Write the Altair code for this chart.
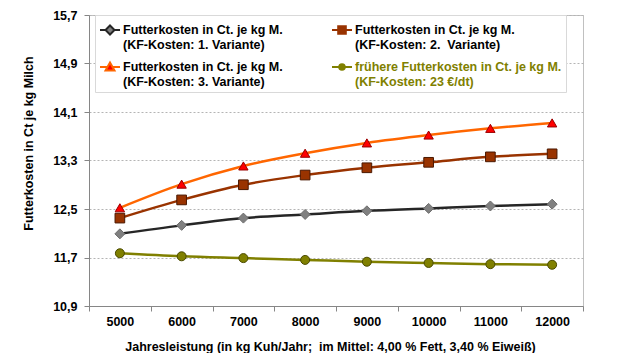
import altair as alt
import pandas as pd

# ---------------- data ----------------
jahresleistung = [5000, 6000, 7000, 8000, 9000, 10000, 11000, 12000]
variante_1 = [12.09, 12.23, 12.35, 12.41, 12.47, 12.51, 12.55, 12.58]
variante_2 = [12.35, 12.65, 12.90, 13.06, 13.18, 13.27, 13.36, 13.41]
variante_3 = [12.52, 12.91, 13.21, 13.42, 13.59, 13.72, 13.83, 13.92]
frueher = [11.77, 11.72, 11.69, 11.66, 11.63, 11.61, 11.59, 11.58]

series_keys = ["V1", "V2", "V3", "V4"]
label_line1 = [
    "Futterkosten in Ct. je kg M.",
    "Futterkosten in Ct. je kg M.",
    "Futterkosten in Ct. je kg M.",
    "frühere Futterkosten in Ct. je kg M.",
]
label_line2 = [
    "(KF-Kosten: 1. Variante)",
    "(KF-Kosten: 2.\u00a0 Variante)",
    "(KF-Kosten: 3. Variante)",
    "(KF-Kosten: 23 €/dt)",
]
y_ticks = [10.9, 11.7, 12.5, 13.3, 14.1, 14.9, 15.7]

line_colors = ["#262626", "#993300", "#ff6600", "#808000"]
marker_fill = ["#808080", "#993300", "#ff0000", "#808000"]
marker_stroke = ["#6e6e6e", "#4a1800", "#990000", "#4a4a00"]
marker_shapes = ["diamond", "square", "triangle-up", "circle"]
marker_sizes = [100, 81, 120, 49]
legend_fill = ["#808080", "#993300", "#ff0000", "#808000"]
legend_paths = [
    "M-1,0H-0.45M0.45,0H1M0,-0.45L0.45,0L0,0.45L-0.45,0Z",
    "M-1,0H-0.38M0.38,0H1M-0.38,-0.38H0.38V0.38H-0.38Z",
    "M-1,0H-0.25M0.25,0H1M0,-0.45L0.45,0.35L-0.45,0.35Z",
    "M-1,0H-0.28M0.28,0H1M-0.28,0A0.28,0.28 0 1,0 0.28,0A0.28,0.28 0 1,0 -0.28,0Z",
]

values_by_series = [variante_1, variante_2, variante_3, frueher]
rows = []
for key, vals in zip(series_keys, values_by_series):
    for j, v in zip(jahresleistung, vals):
        rows.append({"Jahr": str(j), "Wert": v, "Serie": key})
df = pd.DataFrame(rows)

FONT = "Liberation Sans"
FS = 12.5
PLOT_H = 291

label_expr = " : ".join(
    [f"datum.value == '{k}' ? ['{a}', '{b}']" for k, a, b in zip(series_keys, label_line1, label_line2)]
) + " : datum.label"

x_enc = alt.X(
    "Jahr:O",
    sort=[str(j) for j in jahresleistung],
    scale=alt.Scale(paddingInner=0, paddingOuter=0),
    axis=alt.Axis(
        title="Jahresleistung (in kg Kuh/Jahr;\u00a0 im Mittel: 4,00 % Fett, 3,40 % Eiweiß)",
        labelAngle=0,
        tickBand="extent",
        tickSize=5,
        labelPadding=4,
        titleX=241,
        titleY=40,
        titleBaseline="middle",
        titleAnchor="middle",
        titleAlign="center",
        grid=False,
    ),
)
y_enc = alt.Y(
    "Wert:Q",
    scale=alt.Scale(domain=[10.9, 15.7], nice=False, zero=False),
    axis=alt.Axis(
        title="Futterkosten in Ct je kg Milch",
        values=y_ticks,
        labelExpr="replace(format(datum.value, '.1f'), '.', ',')",
        tickSize=5,
        labelPadding=7,
        titleX=-61,
        titleY=128,
        titleAngle=-90,
        titleAlign="center",
        titleBaseline="middle",
        grid=True,
        gridDash=[2, 2],
        gridColor="#b4b4b4",
    ),
)

lines = alt.Chart(df).mark_line(strokeWidth=2.5, interpolate="monotone").encode(
    x=x_enc,
    y=y_enc,
    stroke=alt.Stroke("Serie:N", scale=alt.Scale(domain=series_keys, range=line_colors), legend=None),
    detail="Serie:N",
)

points = alt.Chart(df).mark_point(filled=True, opacity=1, strokeWidth=1).encode(
    x=x_enc,
    y=y_enc,
    shape=alt.Shape("Serie:N", scale=alt.Scale(domain=series_keys, range=marker_shapes), legend=None),
    fill=alt.Fill("Serie:N", scale=alt.Scale(domain=series_keys, range=marker_fill), legend=None),
    stroke=alt.Stroke("Serie:N", scale=alt.Scale(domain=series_keys, range=marker_stroke), legend=None),
    size=alt.Size("Serie:N", scale=alt.Scale(domain=series_keys, range=marker_sizes), legend=None),
)

legend_def = alt.Legend(
    title=None,
    orient="none",
    direction="horizontal",
    legendX=6,
    legendY=0,
    columns=2,
    columnPadding=45,
    rowPadding=5,
    padding=4,
    fillColor="white",
    strokeColor="#d9d9d9",
    labelFont=FONT,
    labelFontSize=FS,
    labelFontWeight="bold",
    labelLimit=320,
    labelOffset=2,
    labelExpr=label_expr,
    labelColor={"expr": "datum.value == 'V4' ? '#808000' : '#000000'"},
    symbolSize=400,
    symbolStrokeWidth=2,
    symbolOpacity=1,
)

legend_layer = alt.Chart(df).mark_point(opacity=0).encode(
    x=x_enc,
    y=y_enc,
    shape=alt.Shape("Serie:N", scale=alt.Scale(domain=series_keys, range=legend_paths), legend=legend_def),
    fill=alt.Fill("Serie:N", scale=alt.Scale(domain=series_keys, range=legend_fill), legend=legend_def),
    stroke=alt.Stroke("Serie:N", scale=alt.Scale(domain=series_keys, range=line_colors), legend=legend_def),
)

chart = (
    alt.layer(lines, points, legend_layer)
    .resolve_scale(shape="independent", fill="independent", stroke="independent", size="independent")
    .properties(
        width=494,
        height=PLOT_H,
        padding={"left": 81, "top": 7, "right": 20, "bottom": 47},
        autosize=alt.AutoSizeParams(type="none"),
        background="white",
    )
    .configure_view(stroke="#c0c0c0", strokeWidth=1)
    .configure_axis(
        labelFont=FONT,
        labelFontSize=FS,
        labelFontWeight="bold",
        labelColor="#000000",
        titleFont=FONT,
        titleFontSize=FS,
        titleFontWeight="bold",
        titleColor="#000000",
        domainColor="#868686",
        tickColor="#868686",
        domainWidth=1,
    )
)

chart.save("out.html", embed_options={"renderer": "svg", "actions": False})
